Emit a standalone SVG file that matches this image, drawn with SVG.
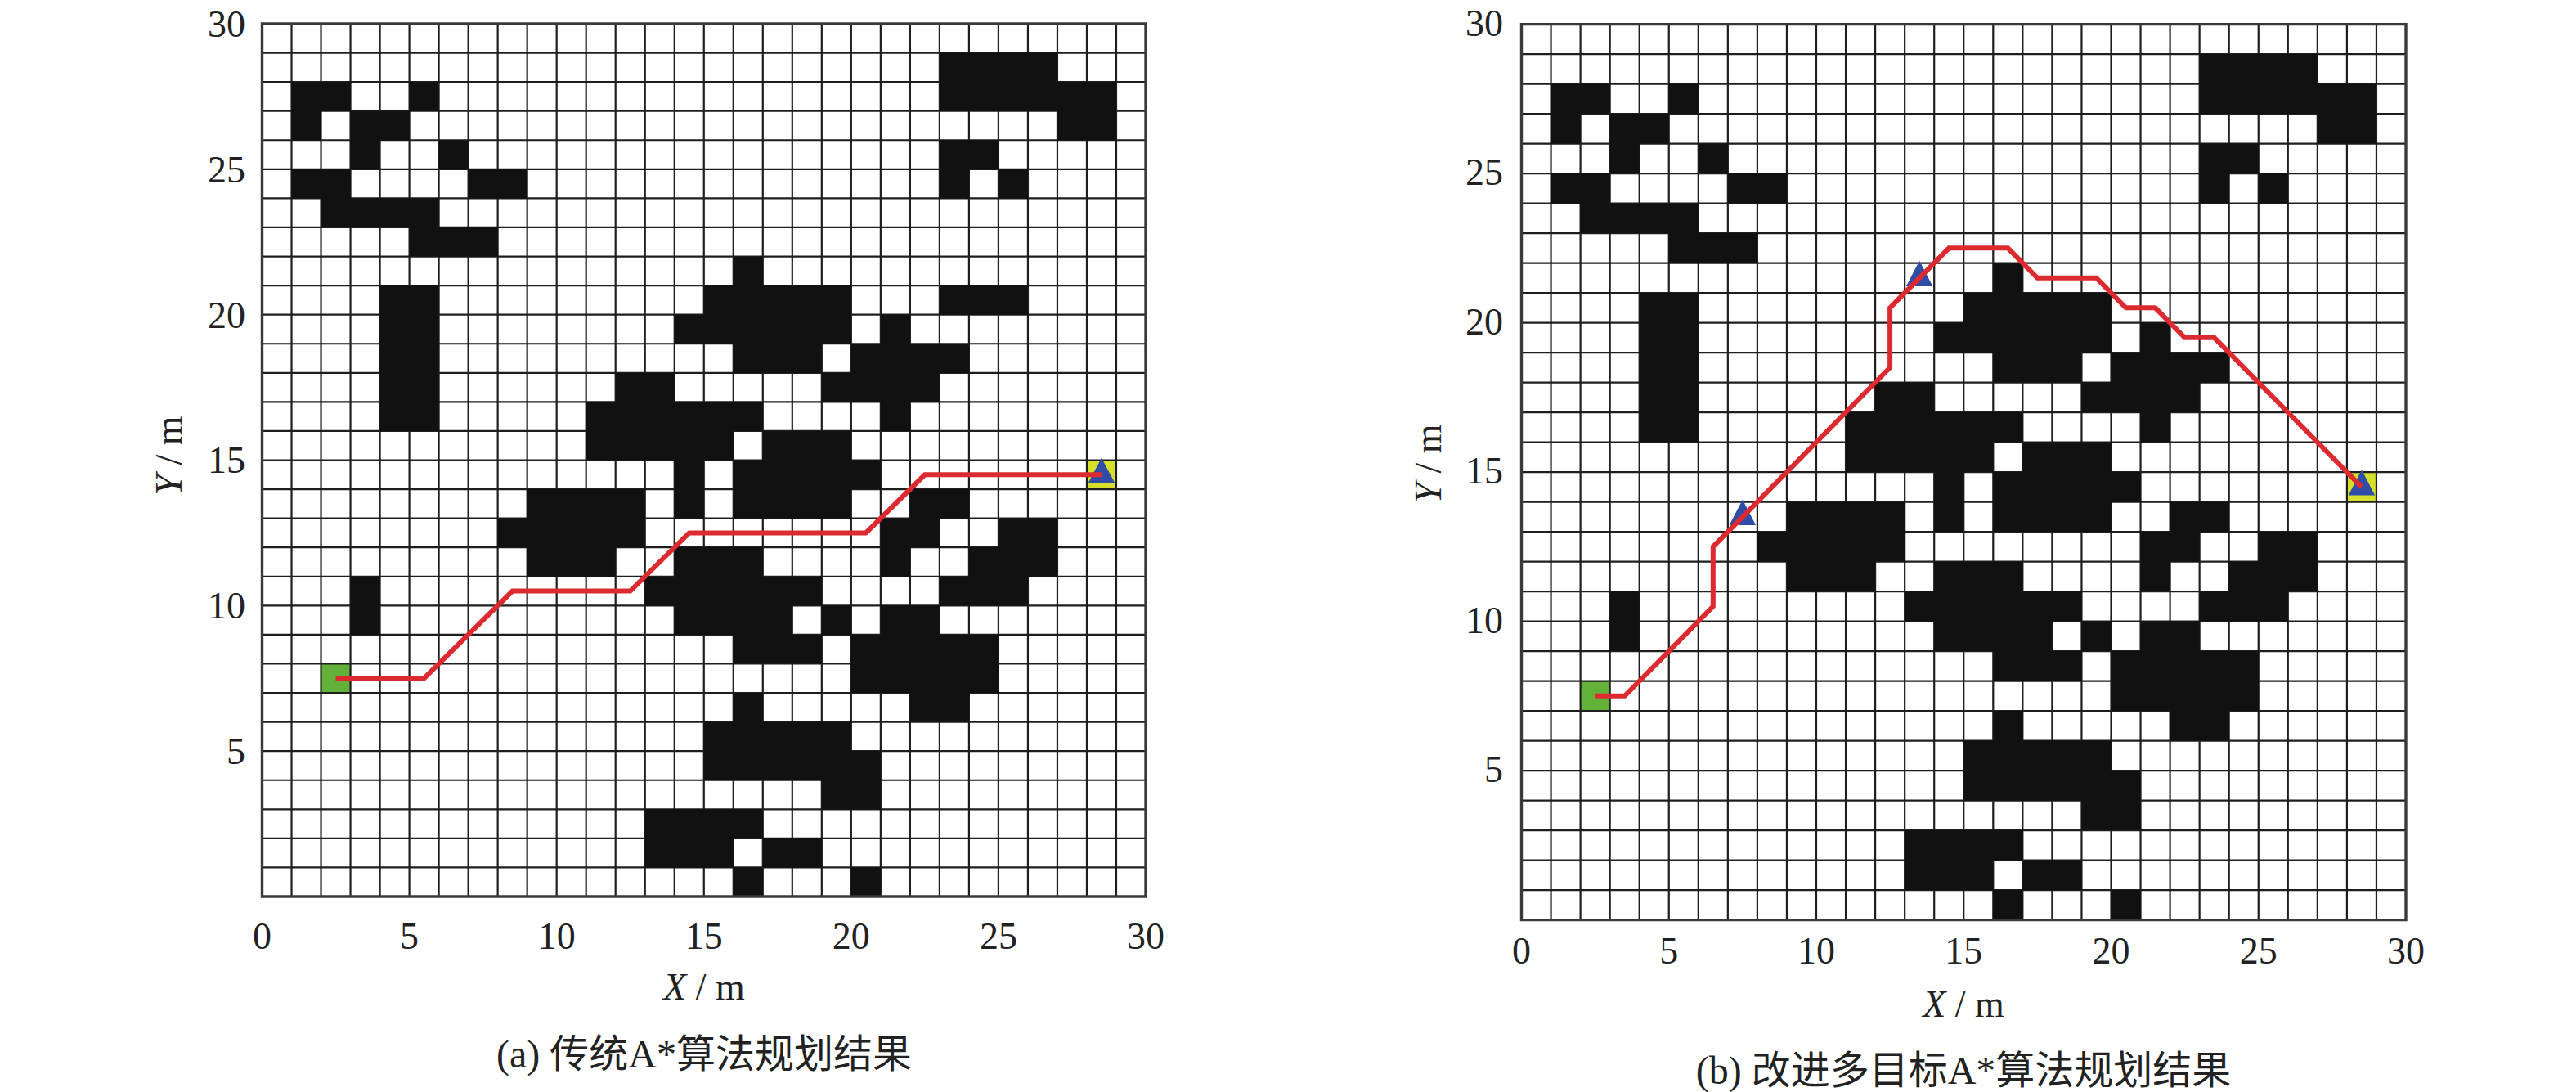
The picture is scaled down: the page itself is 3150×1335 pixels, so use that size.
<svg xmlns="http://www.w3.org/2000/svg" xmlns:xlink="http://www.w3.org/1999/xlink" width="3150" height="1335" viewBox="0 0 3150 1335">
<style>
.bg{fill:#ffffff}
.grid{fill:none;stroke:#1e1e1e;stroke-width:2.2}
.frame{fill:none;stroke:#3a3a3a;stroke-width:3.4}
.obs{fill:#111111}
.route{fill:none;stroke:#db2b30;stroke-width:6;stroke-linejoin:miter}
.tri{fill:#2f4ca6}
.start{fill:#62b23a}
.goal{fill:#d6df2a}
.tk{font-family:"Liberation Serif",serif;font-size:46px;fill:#222222}
.lbl{font-family:"Liberation Serif",serif;font-size:46px;fill:#222222}
.cap{font-family:"Liberation Serif","Noto Sans CJK SC",sans-serif;font-size:48px;fill:#222222}
</style>
<defs>
<path id="gridlines" class="grid" vector-effect="non-scaling-stroke" d="M1 0V30M2 0V30M3 0V30M4 0V30M5 0V30M6 0V30M7 0V30M8 0V30M9 0V30M10 0V30M11 0V30M12 0V30M13 0V30M14 0V30M15 0V30M16 0V30M17 0V30M18 0V30M19 0V30M20 0V30M21 0V30M22 0V30M23 0V30M24 0V30M25 0V30M26 0V30M27 0V30M28 0V30M29 0V30M0 1H30M0 2H30M0 3H30M0 4H30M0 5H30M0 6H30M0 7H30M0 8H30M0 9H30M0 10H30M0 11H30M0 12H30M0 13H30M0 14H30M0 15H30M0 16H30M0 17H30M0 18H30M0 19H30M0 20H30M0 21H30M0 22H30M0 23H30M0 24H30M0 25H30M0 26H30M0 27H30M0 28H30M0 29H30"/>
<path id="obstacles" class="obs" d="M23 1h4v1h-4z M1 2h2v1h-2z M5 2h1v1h-1z M23 2h6v1h-6z M1 3h1v1h-1z M3 3h2v1h-2z M27 3h2v1h-2z M3 4h1v1h-1z M6 4h1v1h-1z M23 4h2v1h-2z M1 5h2v1h-2z M7 5h2v1h-2z M23 5h1v1h-1z M25 5h1v1h-1z M2 6h4v1h-4z M5 7h3v1h-3z M16 8h1v1h-1z M4 9h2v5h-2z M15 9h5v1h-5z M14 10h6v1h-6z M21 10h1v1h-1z M16 11h3v1h-3z M20 11h4v1h-4z M12 12h2v1h-2z M19 12h4v1h-4z M11 13h6v1h-6z M21 13h1v1h-1z M11 14h5v1h-5z M17 14h3v1h-3z M14 15h1v1h-1z M16 15h5v1h-5z M9 16h4v1h-4z M14 16h1v1h-1z M16 16h4v1h-4z M22 16h2v1h-2z M8 17h5v1h-5z M21 17h2v1h-2z M25 17h2v1h-2z M9 18h3v1h-3z M14 18h3v1h-3z M21 18h1v1h-1z M24 18h3v1h-3z M3 19h1v2h-1z M13 19h6v1h-6z M23 19h3v1h-3z M14 20h4v1h-4z M19 20h1v1h-1z M21 20h2v1h-2z M16 21h3v1h-3z M20 21h5v1h-5z M20 22h5v1h-5z M16 23h1v1h-1z M22 23h2v1h-2z M15 24h5v1h-5z M15 25h6v1h-6z M19 26h2v1h-2z M13 27h4v1h-4z M13 28h3v1h-3z M17 28h2v1h-2z M16 29h1v1h-1z M20 29h1v1h-1z"/>
<path id="tri" class="tri" d="M0.5 -0.08L0.95 0.78H0.05Z"/>
</defs>

<g id="plot-a">
<g id="map-a" transform="translate(320.5,29) scale(36.017,35.567)">
<rect class="bg" x="0" y="0" width="30" height="30"/>
<rect class="start" x="2" y="22" width="1" height="1"/>
<rect class="goal" x="28" y="15" width="1" height="1"/>
<use xlink:href="#gridlines" href="#gridlines"/>
<use xlink:href="#obstacles" href="#obstacles"/>
<path class="obs" d="M23 9h3v1h-3z"/>
<rect class="frame" vector-effect="non-scaling-stroke" x="0" y="0" width="30" height="30"/>
<use xlink:href="#tri" href="#tri" x="28" y="15"/>
<polyline id="route-a" class="route" vector-effect="non-scaling-stroke" points="2.5,22.5 5.5,22.5 8.5,19.5 12.5,19.5 14.5,17.5 20.5,17.5 22.5,15.5 28.5,15.5"/>
</g>
<g id="yticks-a" class="tk" text-anchor="end">
<text x="300" y="45">30</text>
<text x="300" y="223">25</text>
<text x="300" y="401">20</text>
<text x="300" y="578">15</text>
<text x="300" y="756">10</text>
<text x="300" y="934">5</text>
</g>
<g id="xticks-a" class="tk" text-anchor="middle">
<text x="320.5" y="1160">0</text>
<text x="500.6" y="1160">5</text>
<text x="680.7" y="1160">10</text>
<text x="860.8" y="1160">15</text>
<text x="1040.8" y="1160">20</text>
<text x="1220.9" y="1160">25</text>
<text x="1401" y="1160">30</text>
</g>
<text id="xlabel-a" class="lbl" x="861" y="1222" text-anchor="middle"><tspan font-style="italic">X</tspan> / m</text>
<text id="ylabel-a" class="lbl" transform="translate(222,557) rotate(-90)" text-anchor="middle"><tspan font-style="italic">Y</tspan> / m</text>
<text id="caption-a" class="cap" x="861" y="1305" text-anchor="middle">(a) 传统A*算法规划结果</text>
</g>

<g id="plot-b">
<g id="map-b" transform="translate(1860.5,29.6) scale(36.05,36.5)">
<rect class="bg" x="0" y="0" width="30" height="30"/>
<rect class="start" x="2" y="22" width="1" height="1"/>
<rect class="goal" x="28" y="15" width="1" height="1"/>
<use xlink:href="#gridlines" href="#gridlines"/>
<use xlink:href="#obstacles" href="#obstacles"/>
<rect class="frame" vector-effect="non-scaling-stroke" x="0" y="0" width="30" height="30"/>
<use xlink:href="#tri" href="#tri" x="13" y="8"/>
<use xlink:href="#tri" href="#tri" x="7" y="16"/>
<use xlink:href="#tri" href="#tri" x="28" y="15"/>
<polyline id="route-b" class="route" vector-effect="non-scaling-stroke" points="2.5,22.5 3.5,22.5 6.5,19.5 6.5,17.5 12.5,11.5 12.5,9.5 14.5,7.5 16.5,7.5 17.5,8.5 19.5,8.5 20.5,9.5 21.5,9.5 22.5,10.5 23.5,10.5 28.5,15.5"/>
</g>
<g id="yticks-b" class="tk" text-anchor="end">
<text x="1838" y="44">30</text>
<text x="1838" y="226">25</text>
<text x="1838" y="409">20</text>
<text x="1838" y="591">15</text>
<text x="1838" y="774">10</text>
<text x="1838" y="956">5</text>
</g>
<g id="xticks-b" class="tk" text-anchor="middle">
<text x="1860.5" y="1178">0</text>
<text x="2040.8" y="1178">5</text>
<text x="2221" y="1178">10</text>
<text x="2401.3" y="1178">15</text>
<text x="2581.5" y="1178">20</text>
<text x="2761.8" y="1178">25</text>
<text x="2942" y="1178">30</text>
</g>
<text id="xlabel-b" class="lbl" x="2401" y="1243" text-anchor="middle"><tspan font-style="italic">X</tspan> / m</text>
<text id="ylabel-b" class="lbl" transform="translate(1762,567) rotate(-90)" text-anchor="middle"><tspan font-style="italic">Y</tspan> / m</text>
<text id="caption-b" class="cap" x="2401" y="1325" text-anchor="middle">(b) 改进多目标A*算法规划结果</text>
</g>
</svg>
